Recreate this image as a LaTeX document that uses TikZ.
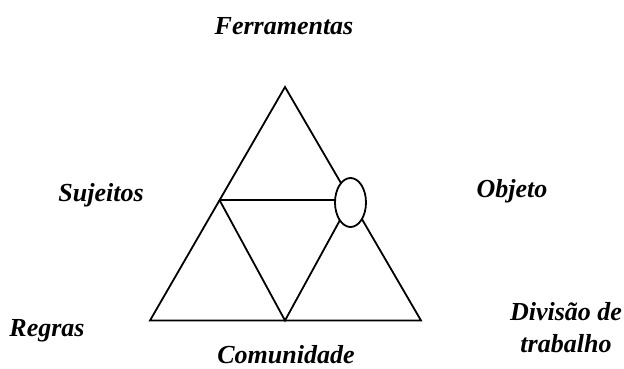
\documentclass[tikz,border=0pt]{standalone}
\usepackage{fontspec}
\setmainfont{Liberation Serif}
\usetikzlibrary{shapes.geometric}
\tikzset{
  rotulo/.style={font=\fontsize{26}{32}\selectfont\bfseries\itshape, inner sep=0pt, align=center},
  lado/.style={line width=1.8pt, black},
  objeto/.style={draw, ellipse, fill=white, line width=1.8pt, minimum width=31pt, minimum height=49pt, inner sep=0pt},
}
\begin{document}
\begin{tikzpicture}[x=1pt, y=-1pt]
\useasboundingbox (0,0) rectangle (624,369);

\coordinate (topo) at (285,87);
\coordinate (baseE) at (150,320.5);
\coordinate (baseD) at (421,320.5);
\coordinate (meioE) at (219.5,200);
\coordinate (meioD) at (351,200);
\coordinate (meioB) at (285,320.5);

\draw[lado] (topo) -- (baseE) -- (baseD) -- cycle;
\draw[lado] (meioE) -- (meioD);
\draw[lado] (meioE) -- (meioB) -- (meioD);

\node[objeto] (obj) at (350.5,202.5) {};

\node[rotulo, anchor=base] (ferramentas) at (284,35) {Ferramentas};
\node[rotulo, anchor=base] (sujeitos) at (101,201) {Sujeitos};
\node[rotulo, anchor=base] (objeto) at (512,197) {Objeto};
\node[rotulo, anchor=base] (regras) at (47,336) {Regras};
\node[rotulo, anchor=base] (comunidade) at (286,363) {Comunidade};
\node[rotulo] (divisao) at (566,328) {Divisão de\\trabalho};

\end{tikzpicture}
\end{document}
